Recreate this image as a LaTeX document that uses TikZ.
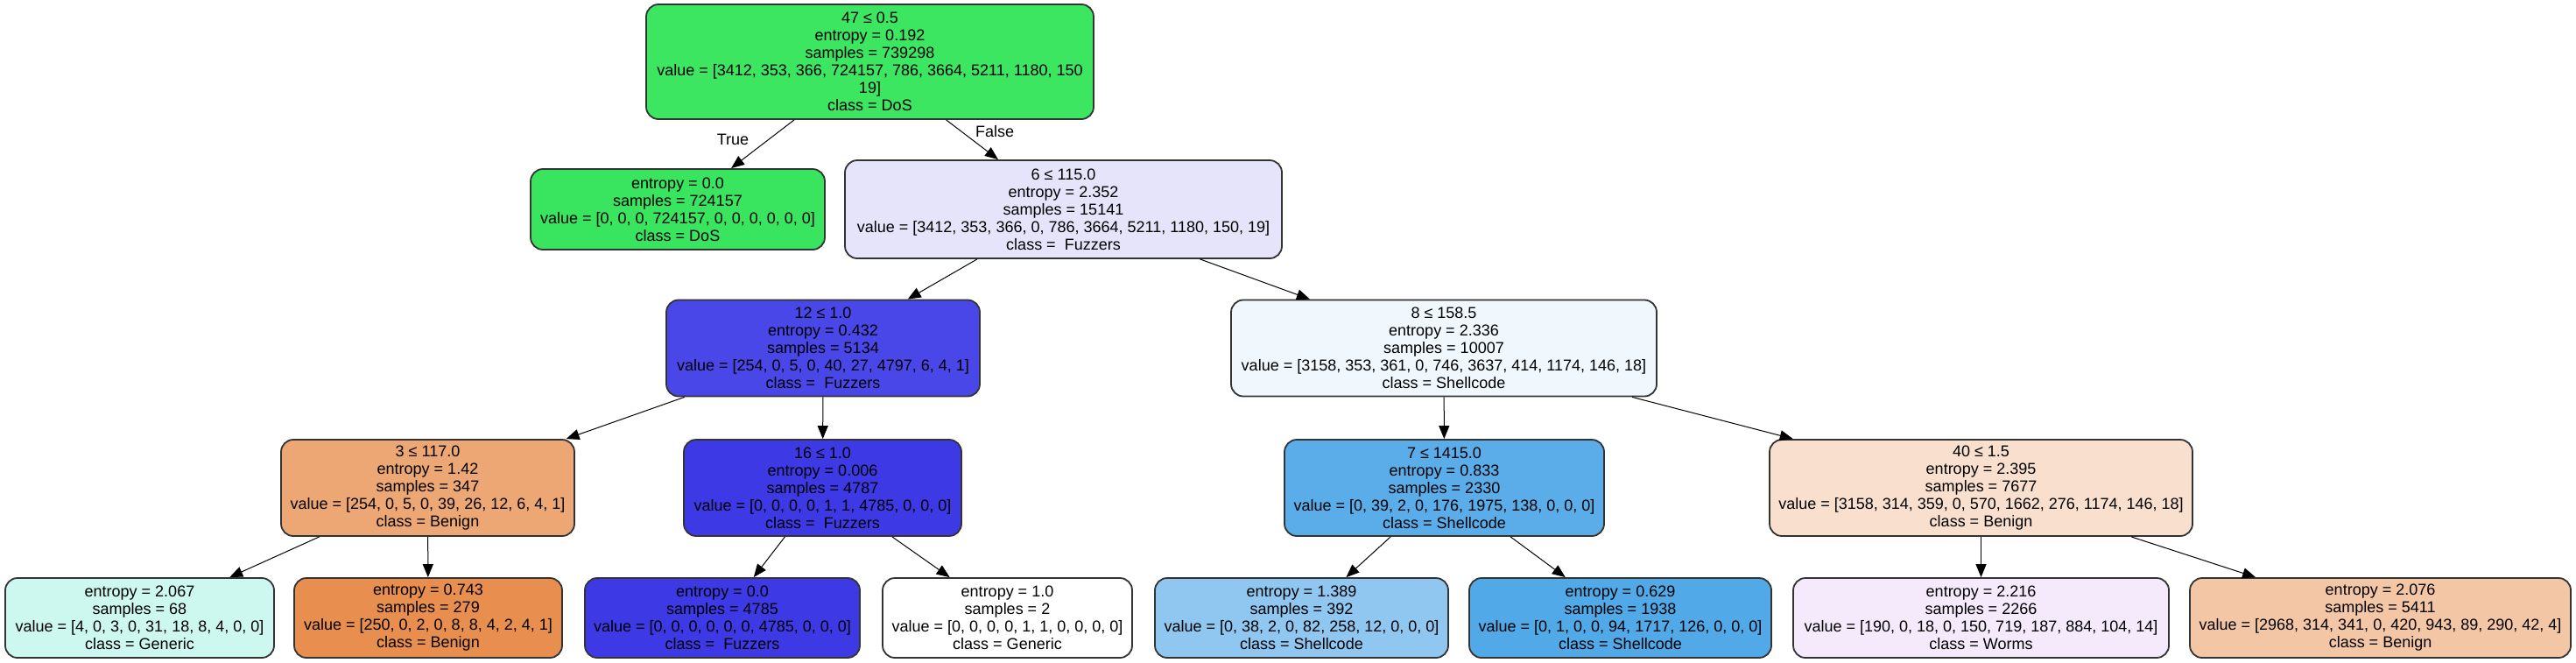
\documentclass[tikz,border=0pt]{standalone}
\usepackage{fontspec}
\setmainfont{Liberation Sans}
\usetikzlibrary{arrows.meta}

\definecolor{fRoot}{HTML}{3DE661}
\definecolor{fDos}{HTML}{39E55E}
\definecolor{fSix}{HTML}{E5E4FB}
\definecolor{fTwelve}{HTML}{4947E7}
\definecolor{fEight}{HTML}{F1F8FD}
\definecolor{fThree}{HTML}{EDA775}
\definecolor{fFuzz}{HTML}{3C39E5}
\definecolor{fSeven}{HTML}{5AADE9}
\definecolor{fForty}{HTML}{F9E0CE}
\definecolor{fGen}{HTML}{CCF8F0}
\definecolor{fBen}{HTML}{E88E4E}
\definecolor{fShellA}{HTML}{8FC7F0}
\definecolor{fShellB}{HTML}{51A9E8}
\definecolor{fWorms}{HTML}{F5EAFC}
\definecolor{fPeach}{HTML}{F3C6A5}
\definecolor{fBorder}{HTML}{333333}

\begin{document}
\begin{tikzpicture}
[every node/.style={inner sep=0pt, font=\fontsize{9pt}{10pt}\selectfont},
 splitnode/.style={rectangle, rounded corners=7pt, line width=0.9pt, draw=fBorder, align=center, minimum height=55pt},
 leafnode/.style={splitnode, minimum height=45.5pt},
 tedge/.style={line width=0.5pt, -{Triangle[length=7.5pt, width=6pt]}, color=black}]
\useasboundingbox (0pt, 0pt) rectangle (1471pt, -378pt);
\node (root) [splitnode, fill=fRoot, minimum width=255.5pt, minimum height=65.5pt] at (496.75pt, -35.25pt) {47 ≤ 0.5\\entropy = 0.192\\samples = 739298\\value = [3412, 353, 366, 724157, 786, 3664, 5211, 1180, 150\\19]\\class = DoS};
\node (dos) [leafnode, fill=fDos, minimum width=168pt, minimum height=46pt] at (387pt, -119.5pt) {entropy = 0.0\\samples = 724157\\value = [0, 0, 0, 724157, 0, 0, 0, 0, 0, 0]\\class = DoS};
\node (n6) [splitnode, fill=fSix, minimum width=249.5pt, minimum height=56pt] at (607.25pt, -119.5pt) {6 ≤ 115.0\\entropy = 2.352\\samples = 15141\\value = [3412, 353, 366, 0, 786, 3664, 5211, 1180, 150, 19]\\class = \ Fuzzers};
\node (n12) [splitnode, fill=fTwelve, minimum width=179pt] at (470pt, -198.75pt) {12 ≤ 1.0\\entropy = 0.432\\samples = 5134\\value = [254, 0, 5, 0, 40, 27, 4797, 6, 4, 1]\\class = \ Fuzzers};
\node (n8) [splitnode, fill=fEight, minimum width=243pt] at (824.5pt, -198.75pt) {8 ≤ 158.5\\entropy = 2.336\\samples = 10007\\value = [3158, 353, 361, 0, 746, 3637, 414, 1174, 146, 18]\\class = Shellcode};
\node (n3) [splitnode, fill=fThree, minimum width=167.5pt] at (244.25pt, -278.5pt) {3 ≤ 117.0\\entropy = 1.42\\samples = 347\\value = [254, 0, 5, 0, 39, 26, 12, 6, 4, 1]\\class = Benign};
\node (n16) [splitnode, fill=fFuzz, minimum width=158.5pt] at (469.75pt, -278.5pt) {16 ≤ 1.0\\entropy = 0.006\\samples = 4787\\value = [0, 0, 0, 0, 1, 1, 4785, 0, 0, 0]\\class = \ Fuzzers};
\node (n7) [splitnode, fill=fSeven, minimum width=182.5pt] at (824.75pt, -278.5pt) {7 ≤ 1415.0\\entropy = 0.833\\samples = 2330\\value = [0, 39, 2, 0, 176, 1975, 138, 0, 0, 0]\\class = Shellcode};
\node (n40) [splitnode, fill=fForty, minimum width=241.5pt] at (1131.25pt, -278.5pt) {40 ≤ 1.5\\entropy = 2.395\\samples = 7677\\value = [3158, 314, 359, 0, 570, 1662, 276, 1174, 146, 18]\\class = Benign};
\node (gen1) [leafnode, fill=fGen, minimum width=153.5pt] at (79.75pt, -352.75pt) {entropy = 2.067\\samples = 68\\value = [4, 0, 3, 0, 31, 18, 8, 4, 0, 0]\\class = Generic};
\node (ben1) [leafnode, fill=fBen, minimum width=153pt] at (244.5pt, -352.75pt) {entropy = 0.743\\samples = 279\\value = [250, 0, 2, 0, 8, 8, 4, 2, 4, 1]\\class = Benign};
\node (fuz1) [leafnode, fill=fFuzz, minimum width=157pt] at (412.5pt, -352.75pt) {entropy = 0.0\\samples = 4785\\value = [0, 0, 0, 0, 0, 0, 4785, 0, 0, 0]\\class = \ Fuzzers};
\node (gen2) [leafnode, fill=white, minimum width=142.5pt] at (575.25pt, -352.75pt) {entropy = 1.0\\samples = 2\\value = [0, 0, 0, 0, 1, 1, 0, 0, 0, 0]\\class = Generic};
\node (she1) [leafnode, fill=fShellA, minimum width=167.5pt] at (743.25pt, -352.75pt) {entropy = 1.389\\samples = 392\\value = [0, 38, 2, 0, 82, 258, 12, 0, 0, 0]\\class = Shellcode};
\node (she2) [leafnode, fill=fShellB, minimum width=172.5pt] at (925.25pt, -352.75pt) {entropy = 0.629\\samples = 1938\\value = [0, 1, 0, 0, 94, 1717, 126, 0, 0, 0]\\class = Shellcode};
\node (wor1) [leafnode, fill=fWorms, minimum width=214.5pt] at (1131.25pt, -352.75pt) {entropy = 2.216\\samples = 2266\\value = [190, 0, 18, 0, 150, 719, 187, 884, 104, 14]\\class = Worms};
\node (ben2) [leafnode, fill=fPeach, minimum width=217.5pt] at (1359.25pt, -352.75pt) {entropy = 2.076\\samples = 5411\\value = [2968, 314, 341, 0, 420, 943, 89, 290, 42, 4]\\class = Benign};
\node (truelbl) at (418.5pt, -79.5pt) {True};
\node (falselbl) at (568pt, -75pt) {False};
\draw [tedge] (root) to (dos);
\draw [tedge] (root) to (n6);
\draw [tedge] (n6) to (n12);
\draw [tedge] (n6) to (n8);
\draw [tedge] (n12) to (n3);
\draw [tedge] (n12) to (n16);
\draw [tedge] (n8) to (n7);
\draw [tedge] (n8) to (n40);
\draw [tedge] (n3) to (gen1);
\draw [tedge] (n3) to (ben1);
\draw [tedge] (n16) to (fuz1);
\draw [tedge] (n16) to (gen2);
\draw [tedge] (n7) to (she1);
\draw [tedge] (n7) to (she2);
\draw [tedge] (n40) to (wor1);
\draw [tedge] (n40) to (ben2);

\end{tikzpicture}
\end{document}
